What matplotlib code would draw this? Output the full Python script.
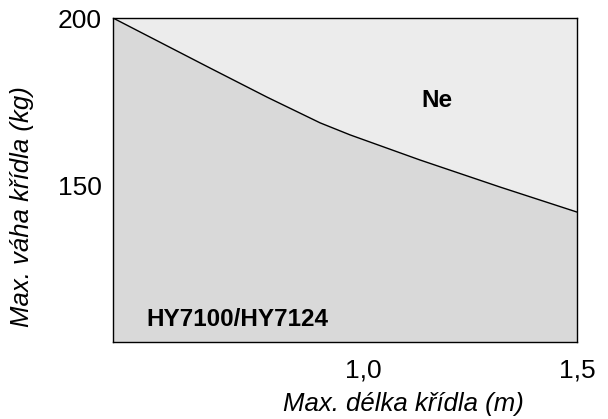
import matplotlib
matplotlib.use("Agg")
import matplotlib.pyplot as plt

plt.rcParams["font.family"] = ["Liberation Sans", "DejaVu Sans"]

# hranice nosnosti (délka křídla m, váha kg)
delka = [0.416, 0.643, 0.776, 0.900, 0.970, 1.133, 1.320, 1.5]
vaha = [200.0, 185.0, 176.3, 168.6, 165.0, 157.5, 149.4, 141.9]

x_ticks = [1.0, 1.5]
x_labels = ["1,0", "1,5"]
y_ticks = [150, 200]

fig = plt.figure(figsize=(6.08, 4.19), dpi=100)
ax = fig.add_axes([113 / 608, 1 - 342 / 419, (577 - 113) / 608, (342 - 18) / 419])

ymin, ymax = 103, 200
ax.fill_between(delka, vaha, ymax, color="#ececec", linewidth=0)
ax.fill_between(delka, ymin, vaha, color="#d9d9d9", linewidth=0)
ax.plot(delka, vaha, color="black", linewidth=1)

ax.set_xlim(delka[0], delka[-1])
ax.set_ylim(ymin, ymax)
ax.set_xticks(x_ticks)
ax.set_xticklabels(x_labels)
ax.set_yticks(y_ticks)
ax.tick_params(axis="x", length=0, labelsize=19, pad=12)
ax.tick_params(axis="y", length=0, labelsize=19, pad=8)
for s in ax.spines.values():
    s.set_linewidth(1)

ax.text(1.173, 175.4, "Ne", fontsize=17.5, fontweight="bold", ha="center", va="center")
ax.text(0.495, 109.6, "HY7100/HY7124", fontsize=17.5, fontweight="bold", ha="left", va="center")

fig.text(403 / 608, 1 - 404 / 419, "Max. délka křídla (m)", fontsize=18.5, style="italic",
         ha="center", va="center")
fig.text(22 / 608, 1 - 207 / 419, "Max. váha křídla (kg)", fontsize=18.5, style="italic",
         ha="center", va="center", rotation=90)

fig.savefig("out.png", dpi=100)
